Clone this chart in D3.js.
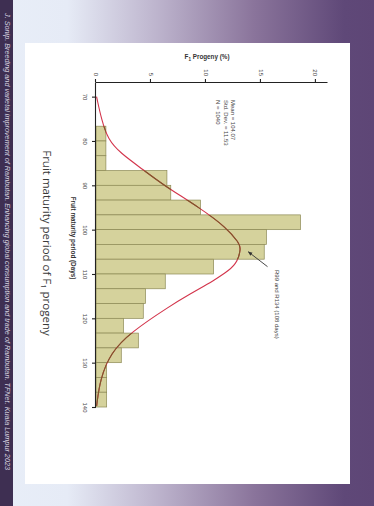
<!DOCTYPE html>
<html lang="en">
<head>
  <meta charset="UTF-8" />
  <title>Fruit maturity period of F1 progeny</title>
  <script src="https://d3js.org/d3.v7.min.js"></script>
  <style>
    body { margin: 0; background: #fff; }
    svg { display: block; }
  </style>
</head>
<body>
  <svg width="374" height="506"></svg>
  <script>
    // histogram bins (start day, 10/3 day wide) and share of progeny (%)
    const binStart = [76.67, 80, 83.33, 86.67, 90, 93.33, 96.67, 100, 103.33, 106.67,
                      110, 113.33, 116.67, 120, 123.33, 126.67, 130, 133.33, 136.67];
    const binWidth = 10 / 3;
    const progeny = [0.9, 0.9, 0.9, 6.45, 6.8, 9.5, 18.6, 15.5, 15.3, 10.7,
                     6.3, 4.5, 4.3, 2.5, 3.85, 2.3, 0.97, 0.97, 0.97];

    // fitted normal curve
    const curveDays = [70, 75.2, 79.7, 82.7, 86.5, 89.9, 95.1, 99.6, 103, 104.1,
                       107.9, 110, 111.2, 114.6, 117.25, 123.25, 127.75, 133.75, 139.75];
    const curvePct = [0.05, 0.5, 1.1, 2.2, 4.3, 6.1, 9.45, 11.9, 13.0, 13.2,
                      12.8, 11.6, 10.9, 8.5, 6.7, 3.1, 1.35, 0.36, 0.06];

    const dayTicks = [70, 80, 90, 100, 110, 120, 130, 140];
    const pctTicks = [0, 5, 10, 15, 20];
    const statsLines = ["Mean = 104.07", "Std. Dev. = 11.53", "N = 1040"];
    const arrowNote = "R99 and R134 (108 days)";
    const sideNote = "J. Sonip. Breeding and varietal improvement of Rambutan. Enhancing global consumption and trade of Rambutan. TFNet. Kuala Lumpur 2023";

    const svg = d3.select("svg");
    const W = 374, H = 506;

    // slide background
    const defs = svg.append("defs");
    const grad = defs.append("linearGradient").attr("id", "bg")
      .attr("x1", 0).attr("x2", 1).attr("y1", 0).attr("y2", 0);
    grad.append("stop").attr("offset", 0.0).attr("stop-color", "#e8eef8");
    grad.append("stop").attr("offset", 0.18).attr("stop-color", "#e6ebf6");
    grad.append("stop").attr("offset", 0.42).attr("stop-color", "#bdb4cd");
    grad.append("stop").attr("offset", 0.68).attr("stop-color", "#8a749b");
    grad.append("stop").attr("offset", 0.92).attr("stop-color", "#5f4878");
    grad.append("stop").attr("offset", 1.0).attr("stop-color", "#5e4676");

    svg.append("rect").attr("width", W).attr("height", H).attr("fill", "url(#bg)");
    svg.append("rect").attr("width", 13).attr("height", H).attr("fill", "#3e2f52");
    svg.append("rect").attr("x", 25).attr("y", 43).attr("width", 325).attr("height", 441).attr("fill", "#fff");

    svg.append("text")
      .attr("transform", "translate(4.5,13) rotate(90)")
      .attr("font-family", "Liberation Sans, sans-serif")
      .attr("font-style", "italic")
      .attr("font-size", 6.4)
      .attr("fill", "#d8d4e0")
      .attr("textLength", 457)
      .attr("lengthAdjust", "spacingAndGlyphs")
      .text(sideNote);

    // the chart is drawn in its own frame, then turned a quarter clockwise
    const g = svg.append("g").attr("transform", "translate(412,0) rotate(90)");

    const x = d3.scaleLinear().domain([66.7, 140]).range([82, 407]);
    const y = d3.scaleLinear().domain([0, 21.1]).range([316, 84]);

    const bars = binStart.map((d, i) => ({ start: d, end: d + binWidth, value: progeny[i] }));

    g.append("g")
      .selectAll("rect")
      .data(bars)
      .join("rect")
      .attr("x", d => x(d.start))
      .attr("width", d => x(d.end) - x(d.start))
      .attr("y", d => y(d.value))
      .attr("height", d => y(0) - y(d.value))
      .attr("fill", "#d5d29c")
      .attr("stroke", "#8c8954")
      .attr("stroke-width", 0.7);

    // curve: red, brownish where it runs over the bars
    const clip = defs.append("clipPath").attr("id", "barclip");
    clip.selectAll("rect")
      .data(bars)
      .join("rect")
      .attr("x", d => x(d.start))
      .attr("width", d => x(d.end) - x(d.start))
      .attr("y", d => y(d.value))
      .attr("height", d => y(0) - y(d.value));

    const pts = curveDays.map((d, i) => [d, curvePct[i]]);
    const line = d3.line().x(d => x(d[0])).y(d => y(d[1])).curve(d3.curveBasis);

    g.append("path").attr("d", line(pts))
      .attr("fill", "none").attr("stroke", "#d3354c").attr("stroke-width", 1.1);
    g.append("path").attr("d", line(pts))
      .attr("clip-path", "url(#barclip)")
      .attr("fill", "none").attr("stroke", "#7b5a2a").attr("stroke-width", 1.1);

    // axes
    const xAxis = g.append("g")
      .attr("transform", `translate(0,${y(0)})`)
      .call(d3.axisBottom(x).tickValues(dayTicks).tickSize(4).tickPadding(5).tickSizeOuter(0));
    const yAxis = g.append("g")
      .attr("transform", `translate(${x(66.7)},0)`)
      .call(d3.axisLeft(y).tickValues(pctTicks).tickSize(3).tickPadding(3).tickSizeOuter(0));

    [xAxis, yAxis].forEach(a => {
      a.select(".domain").attr("stroke", "#222").attr("stroke-width", 1.1);
      a.selectAll(".tick line").attr("stroke", "#222").attr("stroke-width", 1.1);
      a.selectAll("text")
        .attr("font-family", "Liberation Sans, sans-serif")
        .attr("font-size", 6)
        .attr("fill", "#444");
    });

    g.append("text")
      .attr("x", 238).attr("y", 341)
      .attr("text-anchor", "middle")
      .attr("font-family", "Liberation Sans, sans-serif")
      .attr("font-weight", "bold")
      .attr("font-size", 6.3)
      .attr("fill", "#333")
      .text("Fruit maturity period (Days)");

    const yTitle = g.append("text")
      .attr("transform", `translate(59,${y(10.1)}) rotate(-90)`)
      .attr("text-anchor", "middle")
      .attr("font-family", "Liberation Sans, sans-serif")
      .attr("font-weight", "bold")
      .attr("font-size", 6.3)
      .attr("fill", "#333");
    yTitle.append("tspan").text("F");
    yTitle.append("tspan").attr("font-size", 4.5).attr("dy", 1.5).text("1");
    yTitle.append("tspan").attr("dy", -1.5).text(" Progeny (%)");

    // statistics block
    g.append("g")
      .selectAll("text")
      .data(statsLines)
      .join("text")
      .attr("x", x(70.76))
      .attr("y", (d, i) => y(12.5) + i * 7.8)
      .attr("dy", "0.35em")
      .attr("font-family", "Liberation Sans, sans-serif")
      .attr("font-size", 6)
      .attr("fill", "#444")
      .text(d => d);

    // arrow annotation
    defs.append("marker").attr("id", "ah")
      .attr("viewBox", "0 0 10 10").attr("refX", 9).attr("refY", 5)
      .attr("markerWidth", 5).attr("markerHeight", 5).attr("orient", "auto")
      .append("path").attr("d", "M0,1L10,5L0,9Z").attr("fill", "#333");
    g.append("line")
      .attr("x1", x(108.35)).attr("y1", y(15.6))
      .attr("x2", x(105)).attr("y2", y(13.85))
      .attr("stroke", "#333").attr("stroke-width", 0.9)
      .attr("marker-end", "url(#ah)");
    g.append("text")
      .attr("x", x(109.1)).attr("y", y(16.5))
      .attr("dy", "0.35em")
      .attr("font-family", "Liberation Sans, sans-serif")
      .attr("font-size", 6)
      .attr("fill", "#444")
      .text(arrowNote);

    // slide caption
    const cap = g.append("text")
      .attr("x", 243).attr("y", 369)
      .attr("text-anchor", "middle")
      .attr("font-family", "Open Sans, sans-serif")
      .attr("font-size", 11.5)
      .attr("fill", "#3a3a3a");
    cap.append("tspan").text("Fruit maturity period of F");
    cap.append("tspan").attr("font-size", 7.5).attr("dy", 2.5).text("1");
    cap.append("tspan").attr("dy", -2.5).text(" progeny");
  </script>
</body>
</html>
